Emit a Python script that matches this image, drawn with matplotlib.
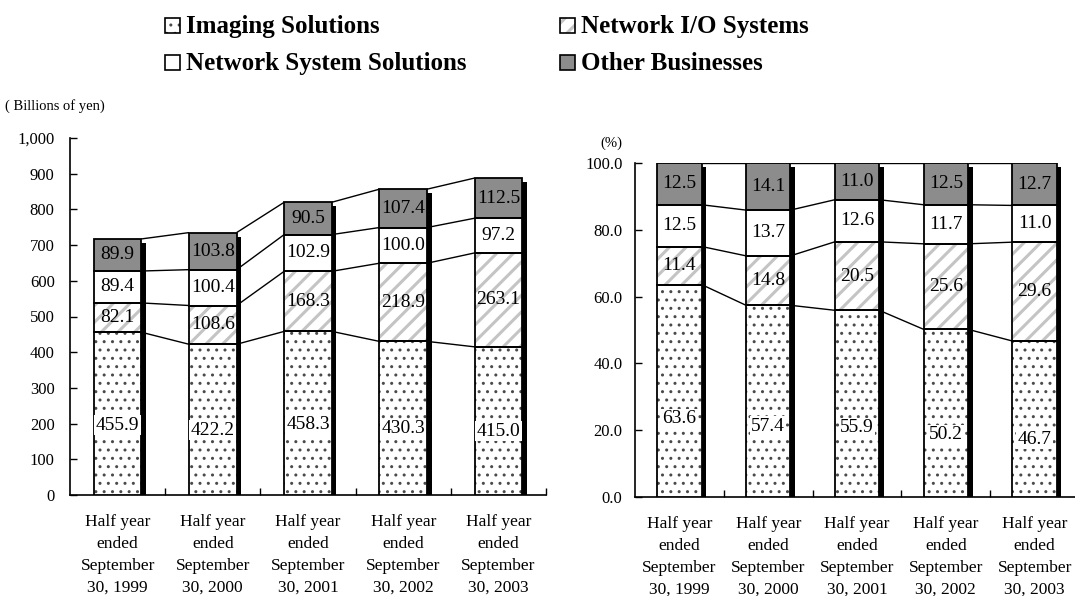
import matplotlib
matplotlib.use("Agg")
import matplotlib.pyplot as plt
import numpy as np
from matplotlib.patches import Rectangle
from matplotlib.transforms import ScaledTranslation
from matplotlib.ticker import FuncFormatter, FixedLocator

plt.rcParams['font.family'] = ['Liberation Serif', 'DejaVu Serif']

# ---- data -------------------------------------------------------------
periods = ["Half year\nended\nSeptember\n30, 1999",
           "Half year\nended\nSeptember\n30, 2000",
           "Half year\nended\nSeptember\n30, 2001",
           "Half year\nended\nSeptember\n30, 2002",
           "Half year\nended\nSeptember\n30, 2003"]
segments = ["Imaging Solutions", "Network I/O Systems",
            "Network System Solutions", "Other Businesses"]

# sales, billions of yen
imaging_yen = [455.9, 422.2, 458.3, 430.3, 415.0]
network_io_yen = [82.1, 108.6, 168.3, 218.9, 263.1]
network_sys_yen = [89.4, 100.4, 102.9, 100.0, 97.2]
other_yen = [89.9, 103.8, 90.5, 107.4, 112.5]

# composition, %
imaging_pct = [63.6, 57.4, 55.9, 50.2, 46.7]
network_io_pct = [11.4, 14.8, 20.5, 25.6, 29.6]
network_sys_pct = [12.5, 13.7, 12.6, 11.7, 11.0]
other_pct = [12.5, 14.1, 11.0, 12.5, 12.7]

left_ticks = [0, 100, 200, 300, 400, 500, 600, 700, 800, 900, 1000]
right_ticks = [0, 20, 40, 60, 80, 100]

# ---- styles -----------------------------------------------------------
styles = [
    dict(face="white", hatch="..", hcolor="#4a4a4a", hlw=1.0),
    dict(face="white", hatch="//", hcolor="#c4c4c4", hlw=2.2),
    dict(face="white", hatch=None, hcolor="black", hlw=1.0),
    dict(face="#8c8c8c", hatch=None, hcolor="black", hlw=1.0),
]

W, H = 1075, 596
fig = plt.figure(figsize=(W / 100, H / 100), dpi=100)


def fig_box(x0, y_top, x1, y_bot):
    return [x0 / W, 1 - y_bot / H, (x1 - x0) / W, (y_bot - y_top) / H]


def stacked(ax, series, ymax, ticks, fmt, bottom_frac, tick_pad):
    n = len(series[0])
    x = np.arange(n)
    bw = 0.5
    data = np.array(series, dtype=float)
    cum = np.vstack([np.zeros(n), np.cumsum(data, axis=0)])
    total = cum[-1]

    # drop shadow on the right of each column
    shift = ax.transData + ScaledTranslation(4.5 / 100, -4 / 100, fig.dpi_scale_trans)
    ax.bar(x, total, bw, color="black", zorder=2, transform=shift, linewidth=0)

    # connector lines between segment boundaries
    for k in range(1, cum.shape[0]):
        for i in range(n - 1):
            ax.plot([x[i] + bw / 2, x[i + 1] - bw / 2], [cum[k, i], cum[k, i + 1]],
                    color="black", lw=1.0, zorder=1, solid_capstyle="butt")

    for s, st in enumerate(styles):
        with plt.rc_context({'hatch.linewidth': st['hlw']}):
            ax.bar(x, data[s], bw, bottom=cum[s], color=st['face'],
                   hatch=st['hatch'], edgecolor=st['hcolor'],
                   linewidth=0, zorder=3)
        ax.bar(x, data[s], bw, bottom=cum[s], fill=False, edgecolor="black",
               linewidth=1.3, zorder=4)
        for i in range(n):
            if s == 0:
                yv = cum[s, i] + data[s, i] * bottom_frac
                bbox = dict(facecolor="white", edgecolor="none", pad=1.0)
            else:
                yv = cum[s, i] + data[s, i] / 2
                bbox = None
            ax.text(x[i], yv, f"{data[s, i]:.1f}", ha="center", va="center",
                    fontsize=14, zorder=5, bbox=bbox)

    ax.set_xlim(-0.5, n - 0.5)
    ax.set_ylim(0, ymax)
    ax.set_yticks(ticks)
    ax.yaxis.set_major_formatter(FuncFormatter(fmt))
    ax.set_xticks(x)
    ax.set_xticklabels(periods, fontsize=12.5, linespacing=1.48)
    ax.xaxis.set_minor_locator(FixedLocator(np.arange(n) + 0.5))
    ax.tick_params(axis="x", which="major", length=0, pad=14)
    ax.tick_params(axis="x", which="minor", direction="in", length=5, width=1)
    ax.tick_params(axis="y", direction="in", length=5, width=1,
                   labelsize=12, pad=tick_pad)
    for side in ("top", "right"):
        ax.spines[side].set_visible(False)
    for side in ("left", "bottom"):
        ax.spines[side].set_linewidth(1.2)


ax1 = fig.add_axes(fig_box(70, 138, 546, 495))
stacked(ax1, [imaging_yen, network_io_yen, network_sys_yen, other_yen],
        1000, left_ticks, lambda v, p: f"{v:,.0f}", 0.43, 11)

ax2 = fig.add_axes(fig_box(635, 163, 1079, 497))
stacked(ax2, [imaging_pct, network_io_pct, network_sys_pct, other_pct],
        100, right_ticks, lambda v, p: f"{v:.1f}", 0.37, 9)

fig.text(5 / W, 1 - 106 / H, "( Billions of yen)", fontsize=10.5,
         ha="left", va="center")
fig.text(611 / W, 1 - 143 / H, "(%)", fontsize=10.5, ha="center", va="center")

# legend: square swatch followed by bold label
legend_pos = [(165, 33), (560, 33), (165, 70), (560, 70)]
for idx, (lx, base) in enumerate(legend_pos):
    st = styles[idx]
    box = (lx / W, 1 - base / H)
    with plt.rc_context({'hatch.linewidth': st['hlw']}):
        sq = Rectangle(box, 15 / W, 15 / H, transform=fig.transFigure,
                       facecolor=st['face'], hatch=st['hatch'],
                       edgecolor=st['hcolor'], linewidth=0)
    fig.add_artist(sq)
    fig.add_artist(Rectangle(box, 15 / W, 15 / H, transform=fig.transFigure,
                             fill=False, edgecolor="black", linewidth=1.2))
    fig.text((lx + 21) / W, 1 - base / H, segments[idx], fontsize=18,
             fontweight="bold", ha="left", va="baseline")

fig.savefig("out.png", dpi=100)
